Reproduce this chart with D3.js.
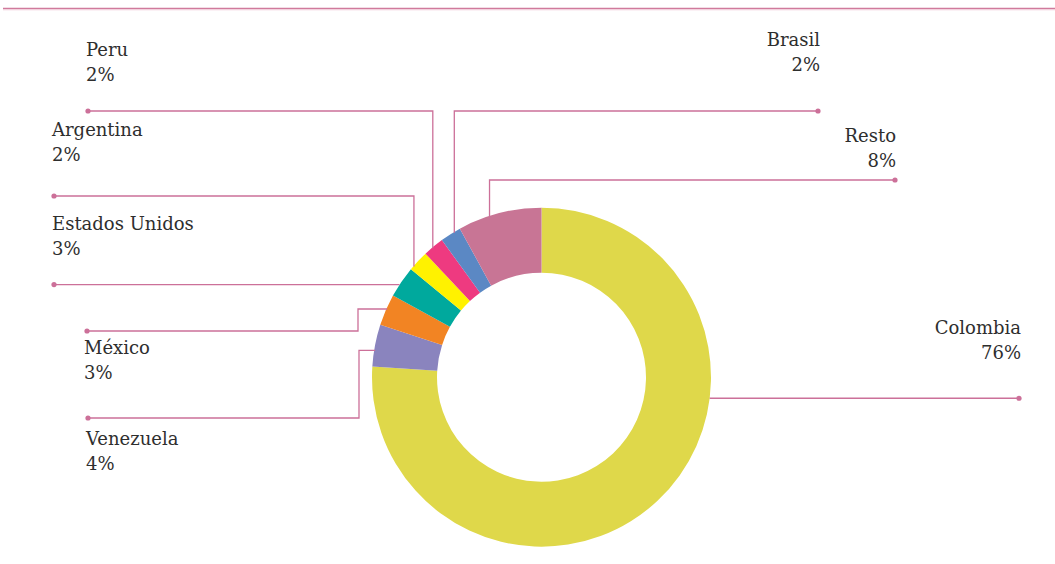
<!DOCTYPE html>
<html><head><meta charset="utf-8">
<script src="https://cdn.jsdelivr.net/npm/d3@7"></script>
<style>html,body{margin:0;padding:0;background:#fff;}svg{display:block;}</style>
</head><body>
<svg id="chart" width="1055" height="564"></svg>
<script>
const categories = ["Colombia","Venezuela","México","Estados Unidos","Argentina","Peru","Brasil","Resto"];
const values = [76, 4, 3, 3, 2, 2, 2, 8];
const valueLabels = ["76%","4%","3%","3%","2%","2%","2%","8%"];
const colors = ["#dfd84a","#8a84be","#f28423","#00a99d","#fff200","#ee3a80","#5b88c4","#c87595"];

const W = 1055, H = 564;
const cx = 541.5, cy = 377.2, R = 169.5, r = 104.5;
const lineColor = "#cc7099";
const textColor = "#2e2e2e";

// label layout: anchor fraction within slice, label end x, label text pos, leader shape
const layout = {
  "Colombia":      {f:0.355, type:"h", endX:1019, tx:1021, ty:334, align:"end"},
  "Venezuela":     {f:0.38, type:"elbow", endX:88, elbowX:359, lineY:418, tx:86, ty:445, align:"start"},
  "México":        {f:0.53, type:"elbow", endX:87, elbowX:358, lineY:331, tx:84, ty:354, align:"start"},
  "Estados Unidos":{f:0.40, type:"h", endX:54, tx:52, ty:230, align:"start"},
  "Argentina":     {f:0.22, type:"v", endY:196, endX:54, tx:52, ty:136, align:"start"},
  "Peru":          {f:0.46, type:"v", endY:111, endX:88, tx:86, ty:56, align:"start"},
  "Brasil":        {f:0.70, type:"v", endY:111, endX:818, tx:820, ty:46, align:"end"},
  "Resto":         {f:0.38, type:"v", endY:180, endX:895, tx:896, ty:142, align:"end"}
};

const svg = d3.select("#chart");

// top rule
svg.append("line").attr("x1",3).attr("x2",W).attr("y1",8.5).attr("y2",8.5)
  .attr("stroke","#d07a9c").attr("stroke-width",1.5);
svg.append("line").attr("x1",3).attr("x2",W).attr("y1",9.8).attr("y2",9.8)
  .attr("stroke","#f0c6d6").attr("stroke-width",0.8);

const pie = d3.pie().sort(null).value(d=>d);
const arcs = pie(values);
const arc = d3.arc().innerRadius(r).outerRadius(R);

const g = svg.append("g").attr("transform",`translate(${cx},${cy})`);
g.selectAll("path").data(arcs).join("path")
  .attr("d",arc).attr("fill",(d,i)=>colors[i]);

// leader lines and labels
arcs.forEach((a,i)=>{
  const name = categories[i];
  const L = layout[name];
  const ang = a.startAngle + (a.endAngle - a.startAngle)*L.f;
  const px = cx + R*Math.sin(ang), py = cy - R*Math.cos(ang);
  let pts;
  if (L.type === "v") {
    pts = [[L.endX, L.endY],[px, L.endY],[px, py+1]];
  } else if (L.type === "h") {
    pts = [[L.endX, py],[px, py]];
  } else {
    pts = [[L.endX, L.lineY],[L.elbowX, L.lineY],[L.elbowX, py],[px+1, py]];
  }
  svg.append("path").attr("d", d3.line()(pts))
    .attr("fill","none").attr("stroke",lineColor).attr("stroke-width",1.3);
  svg.append("circle").attr("cx",pts[0][0]).attr("cy",pts[0][1]).attr("r",2.6).attr("fill",lineColor);

  const t = svg.append("text").attr("x",L.tx).attr("y",L.ty)
    .attr("text-anchor",L.align)
    .attr("font-family","'DejaVu Serif', serif")
    .attr("font-size",18).attr("fill",textColor);
  t.append("tspan").attr("x",L.tx).text(name);
  t.append("tspan").attr("x",L.tx).attr("dy",24.5).text(valueLabels[i]);
});
</script>
</body></html>
